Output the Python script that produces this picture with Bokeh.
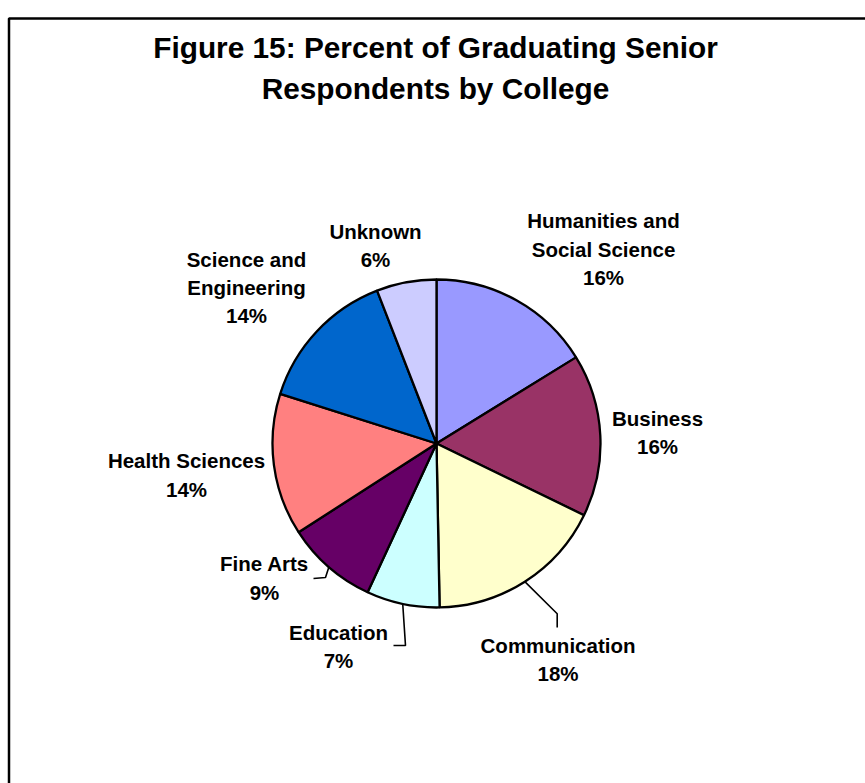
import numpy as np
from bokeh.plotting import figure
from bokeh.models import Range1d, ColumnDataSource
from bokeh.core.properties import value
from bokeh.embed import file_html
from bokeh.resources import INLINE

# ---- data ----
categories = ["Humanities and\nSocial Science", "Business", "Communication", "Education",
              "Fine Arts", "Health Sciences", "Science and\nEngineering", "Unknown"]
percents = [16.2, 16.0, 17.5, 7.2, 9.0, 14.0, 14.2, 5.9]
colors = ["#9999FF", "#993366", "#FFFFCC", "#CCFFFF", "#660066", "#FF8080", "#0066CC", "#CCCCFF"]
title_lines = ["Figure 15: Percent of Graduating Senior", "Respondents by College"]

# ---- layout (pixel coordinates, y downward) ----
W, H = 865, 783
CX, CY, R = 436, 443, 164
label_centers = [(603, 248.5), (657, 432), (557.5, 659), (338, 646),
                 (264, 577.5), (186, 474.5), (246, 287), (375, 245)]
leaders = {2: [(556.7, 613.3), (556.7, 627)],
           3: [(405, 645), (393, 645)],
           4: [(325, 577), (313, 578)]}
LINE_H = 28.4
FONT = value("Liberation Sans")


def Y(py):
    return H - py


p = figure(width=W, height=H, x_range=Range1d(0, W), y_range=Range1d(0, H),
           output_backend="svg", toolbar_location=None, min_border=0)
p.axis.visible = False
p.grid.visible = False
p.outline_line_color = None
p.background_fill_color = "white"

# frame
p.line(x=[8.5, 8.5, W + 20], y=[Y(H + 20), Y(18), Y(18)], line_color="black", line_width=2.5)

# wedges: start at 12 o'clock, clockwise
frac = np.array(percents) / np.sum(percents)
cum = np.concatenate([[0], np.cumsum(frac)])
start = np.pi / 2 - 2 * np.pi * cum[1:]
end = np.pi / 2 - 2 * np.pi * cum[:-1]
src = ColumnDataSource(dict(x=[CX] * len(percents), y=[Y(CY)] * len(percents),
                            start=start, end=end, color=colors))
p.wedge(x="x", y="y", radius=R, start_angle="start", end_angle="end",
        fill_color="color", line_color="black", line_width=2.3, source=src)

# leader lines
mid = np.pi / 2 - 2 * np.pi * (cum[:-1] + cum[1:]) / 2
for i, pts in leaders.items():
    ex = CX + R * np.cos(mid[i])
    ey = Y(CY) + R * np.sin(mid[i])
    xs = [ex] + [pt[0] for pt in pts]
    ys = [ey] + [Y(pt[1]) for pt in pts]
    p.line(x=xs, y=ys, line_color="black", line_width=1.6)

# labels
tx, ty, tt = [], [], []
for i, cat in enumerate(categories):
    lines = cat.split("\n") + ["%d%%" % int(percents[i] + 0.5)]
    lx, ly = label_centers[i]
    n = len(lines)
    for k, s in enumerate(lines):
        tx.append(lx)
        ty.append(Y(ly + (k - (n - 1) / 2) * LINE_H))
        tt.append(s)
p.text(x=tx, y=ty, text=tt, text_font=FONT, text_font_style="bold",
       text_font_size="20.5px", text_align="center", text_baseline="middle",
       text_color="black")

# title
p.text(x=[435, 435], y=[Y(47), Y(88)], text=title_lines, text_font=FONT,
       text_font_style="bold", text_font_size="29.8px", text_align="center",
       text_baseline="middle", text_color="black")

open("out.html", "w").write(file_html(p, INLINE))
